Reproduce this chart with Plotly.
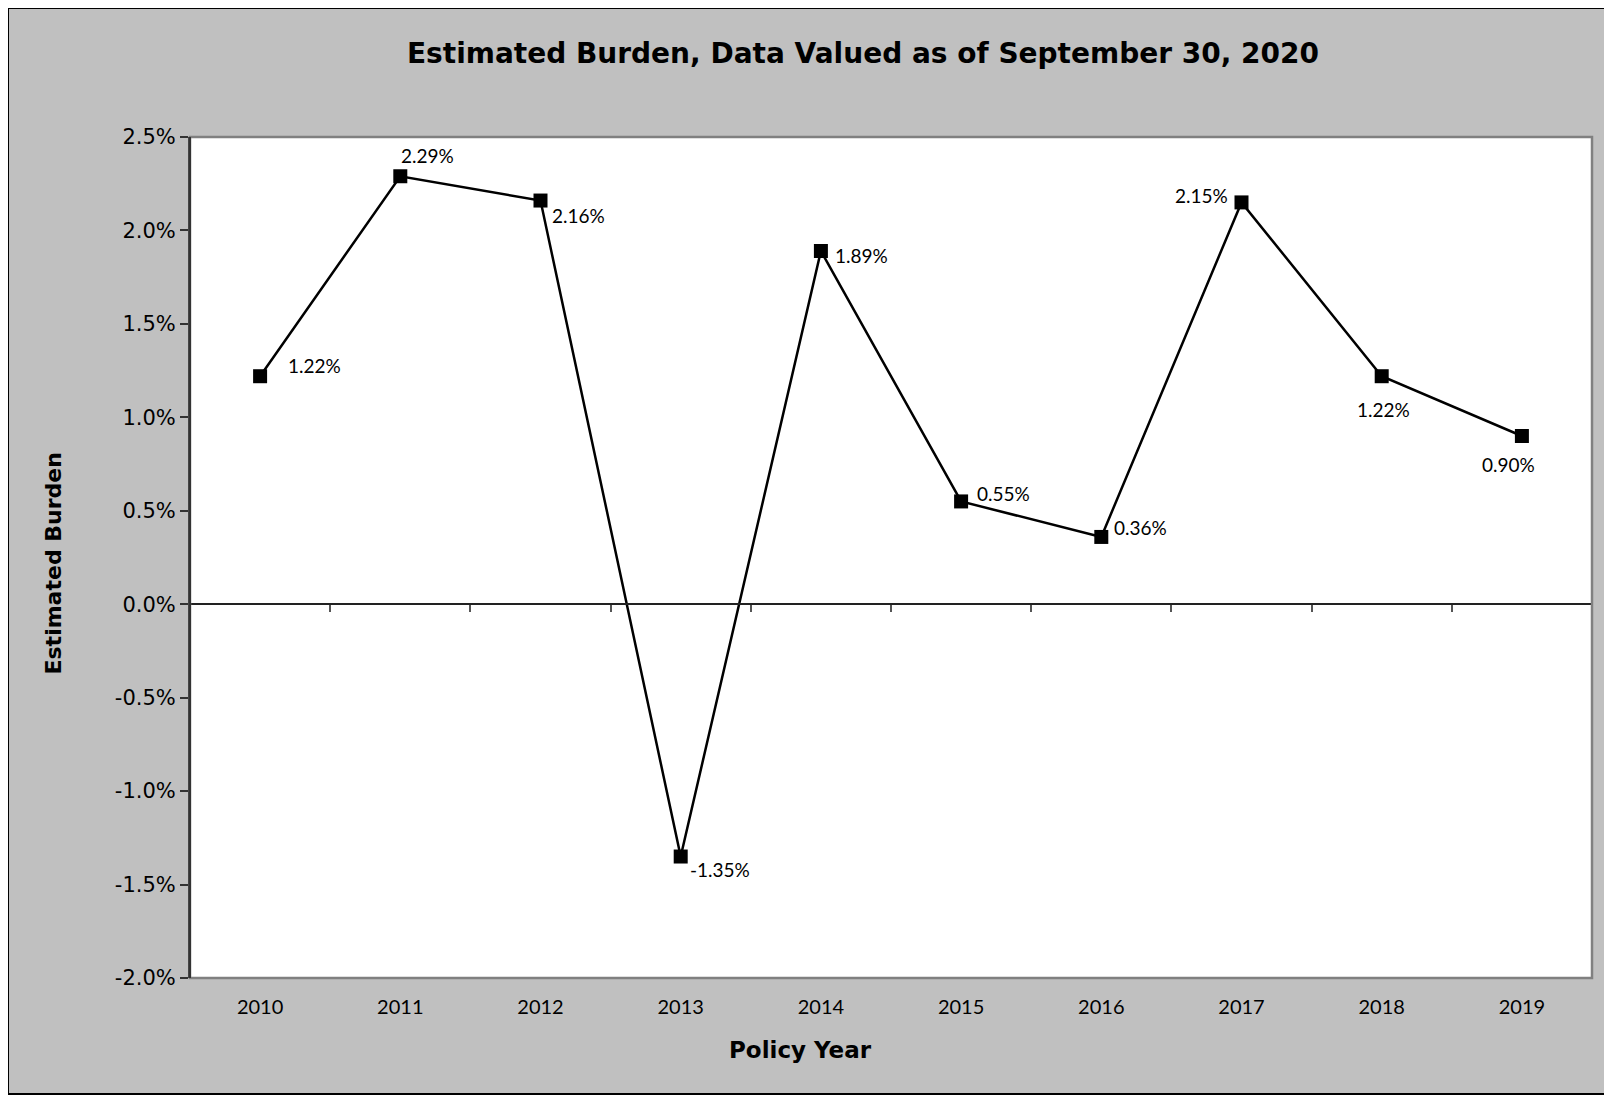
import plotly.graph_objects as go

years = ["2010", "2011", "2012", "2013", "2014", "2015", "2016", "2017", "2018", "2019"]
burden = [1.22, 2.29, 2.16, -1.35, 1.89, 0.55, 0.36, 2.15, 1.22, 0.90]
y_ticks = [-2.0, -1.5, -1.0, -0.5, 0.0, 0.5, 1.0, 1.5, 2.0, 2.5]
y_tick_labels = [f"{v:.1f}%" for v in y_ticks]

title_text = "Estimated Burden, Data Valued as of September 30, 2020"
y_title = "Estimated Burden"
x_title = "Policy Year"

# label offsets in pixels (style only)
label_dx = [54, 27, 38, 39, 41, 42, 39, -40, 2, -13]
label_dy = [11, 21, -15, -13, -4, 8, 9, 7, -33, -28]

W, H = 1604, 1087
ML, MR, MT, MB = 182, 20, 129, 117
PW = W - ML - MR
PH = H - MT - MB

idx = list(range(len(years)))

fig = go.Figure()
fig.add_trace(go.Scatter(
    x=idx, y=burden, mode="lines+markers",
    line=dict(color="black", width=2.5),
    marker=dict(symbol="square", size=14, color="black"),
    showlegend=False, hoverinfo="skip",
))
# invisible trace on zero-line axis
fig.add_trace(go.Scatter(x=[0], y=[0], xaxis="x2", mode="markers",
                         marker=dict(opacity=0), showlegend=False, hoverinfo="skip"))

annotations = []
for i, v in enumerate(burden):
    annotations.append(dict(
        x=i, y=v, xref="x", yref="y", text=f"{v:.2f}%", showarrow=False,
        xshift=label_dx[i], yshift=label_dy[i],
        font=dict(family="Lato", size=19, color="black"),
    ))
annotations.append(dict(
    x=0, y=0.5, xref="paper", yref="paper", text=f"<b>{y_title}</b>", textangle=-90,
    showarrow=False, xshift=45 - ML, yshift=-6, xanchor="center", yanchor="middle",
    font=dict(family="DejaVu Sans", size=22, color="black"),
))
annotations.append(dict(
    x=(792 - ML) / PW, y=0, xref="paper", yref="paper", text=f"<b>{x_title}</b>",
    showarrow=False, yshift=-72, xanchor="center", yanchor="middle",
    font=dict(family="DejaVu Sans", size=23, color="black"),
))

ymin, ymax = y_ticks[0], y_ticks[-1]
zero_pos = (0 - ymin) / (ymax - ymin)

fig.update_layout(
    width=W, height=H,
    margin=dict(l=ML, r=MR, t=MT, b=MB, pad=0),
    paper_bgcolor="#C0C0C0", plot_bgcolor="white",
    title=dict(text=f"<b>{title_text}</b>", x=855 / W, xref="container", xanchor="center",
               y=1 - 45.5 / H, yref="container", yanchor="middle",
               font=dict(family="DejaVu Sans", size=28, color="black")),
    xaxis=dict(type="linear", range=[-0.5, 9.5], tickvals=idx, ticktext=years,
               showgrid=False, zeroline=False,
               showline=False, ticks="", tickfont=dict(family="Lato", size=20, color="black"),
               ticklabelstandoff=15),
    xaxis2=dict(overlaying="x", anchor="free", position=zero_pos, range=[-0.5, 9.5],
                tickvals=[0.5, 1.5, 2.5, 3.5, 4.5, 5.5, 6.5, 7.5, 8.5],
                showticklabels=False, ticks="outside", ticklen=7, tickwidth=1.5,
                tickcolor="#555555", showline=True, linecolor="#222222", linewidth=1.5,
                showgrid=False, zeroline=False),
    yaxis=dict(range=[ymin, ymax], tickvals=y_ticks, ticktext=y_tick_labels,
               showgrid=False, zeroline=False, showline=True, linecolor="#333333", linewidth=2,
               ticks="outside", ticklen=8, tickwidth=1.5, tickcolor="#333333",
               tickfont=dict(family="DejaVu Sans", size=21, color="black")),
    annotations=annotations,
    shapes=[
        dict(type="rect", xref="paper", yref="paper", x0=0, x1=1, y0=0, y1=1,
             line=dict(color="#808080", width=2.5), layer="above"),
        dict(type="line", xref="paper", yref="paper", x0=0, x1=0, y0=0, y1=1,
             line=dict(color="#333333", width=2), layer="above"),
        dict(type="rect", xref="paper", yref="paper",
             x0=-ML / PW, x1=1 + (MR - 1) / PW, y0=-(MB - 1) / PH, y1=1 + MT / PH,
             line=dict(color="black", width=2), layer="above"),
    ],
)

fig.write_html("out.html")
